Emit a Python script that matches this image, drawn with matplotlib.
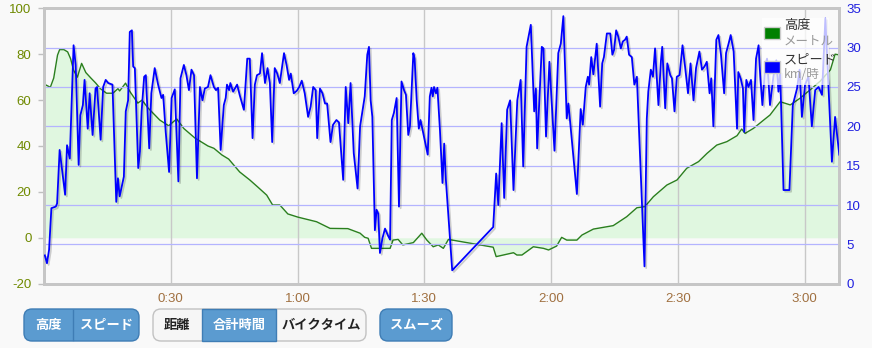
import matplotlib
matplotlib.use('Agg')
import matplotlib.pyplot as plt
import matplotlib.patheffects as pe
from matplotlib.patches import FancyBboxPatch, Rectangle

# altitude (m) over elapsed time (min)
alt_min = [0, 1.5, 2.3, 3.2, 3.7, 4.7, 5.6, 6.3, 7.0, 7.9, 8.9, 9.9, 11.1, 12.2, 13.4,
           14.8, 16.3, 17.5, 17.9, 19.3, 20.3, 22.2, 23.2, 24.6, 27.4, 29.5, 31.4, 33.1,
           35.7, 38.8, 40.2, 42.1, 43.7, 46.3, 48.7, 50.6, 52.7, 54.1, 55.8, 57.7, 60.1,
           64.5, 67.7, 71.9, 74.8, 75.9, 76.7, 77.5, 81.9, 82.6, 83.8, 84.9, 87.4, 89.4,
           90.6, 92.1, 93.3, 94.5, 95.7, 106.3, 107.0, 111.1, 111.9, 113.1, 115.8, 118.2,
           119.4, 121.3, 122.5, 123.7, 126.1, 127.3, 130.0, 134.7, 137.9, 140.3, 142.2,
           144.2, 147.4, 149.8, 152.1, 154.9, 156.9, 159.2, 161.6, 164.0, 165.1, 165.9,
           167.9, 170.3, 171.8, 174.2, 176.6, 178.9, 181.7, 183.7, 186.1, 187.2, 188.2]
alt_m = [67, 65.6, 69.6, 79.6, 82, 82, 81, 78, 73, 70, 76, 72, 69.6, 67.5, 64.9,
         63, 63, 65, 64, 67.4, 63.8, 58.7, 60, 56.6, 51.3, 48.8, 51.8, 47.6,
         43.5, 40, 39, 36.1, 34.3, 28.7, 25.2, 22.1, 18.6, 14.3, 14.3, 10.4, 9,
         7, 4.1, 4, 2, 0.2, -0.2, -4.6, -4.6, -1, -0.7, -3.1, -2.1, 2,
         -1, -3.9, -3.1, -4.6, -0.7, -4.1, -8.2, -6.5, -7.5, -7.5, -3.9, -4.6,
         -5.3, -3.6, 0.2, -1, -1, 1.2, 3.8, 5.3, 9.2, 13.1, 13.6,
         17.9, 23, 25.2, 30.3, 33.2, 36.8, 40.4, 41.9, 44.5, 47.4, 45.5,
         47.7, 51.3, 53.5, 59.3, 57.9, 60.8, 65.1, 68.3, 73.2, 80, 79.7]

# speed (km/h) over elapsed time (min)
speed_min = [0.2, 0.7, 1.2, 1.75, 2.8, 3.1, 3.7, 5.0, 5.45, 6.1, 7.0, 7.5, 8.2, 8.6, 9.2,
             9.6, 10.35, 10.8, 11.5, 12.2, 12.55, 13.4, 14.0, 14.6, 15.2, 16.2, 17.1, 17.5,
             17.9, 18.9, 19.35, 19.9, 20.3, 20.8, 21.1, 21.5, 22.3, 22.7, 23.1, 23.7, 24.1,
             24.9, 25.4, 26.2, 27.0, 27.8, 28.2, 28.8, 29.6, 30.2, 30.95, 31.8, 32.3, 33.1,
             33.7, 34.3, 34.9, 35.5, 36.2, 36.9, 37.5, 38.05, 38.8, 39.4, 40.2, 40.7, 41.2,
             41.8, 42.55, 43.0, 43.3, 43.8, 44.1, 44.75, 45.7, 46.3, 47.3, 48.1, 48.7, 49.35,
             49.9, 50.4, 51.1, 51.6, 52.3, 52.9, 53.45, 54.0, 54.6, 55.2, 55.8, 56.8, 57.4,
             58.0, 58.4, 59.1, 59.8, 60.4, 61.0, 61.7, 62.5, 63.1, 63.7, 64.3, 64.65, 65.3,
             65.9, 66.5, 67.0, 67.8, 68.4, 69.2, 69.8, 70.8, 71.4, 72.0, 72.55, 73.3, 74.2,
             74.8, 75.9, 76.5, 76.9, 77.3, 77.7, 78.3, 78.7, 79.1, 79.5, 80.1, 80.7, 81.5,
             81.9, 82.3, 82.8, 83.45, 84.0, 84.6, 85.2, 85.65, 86.2, 86.6, 87.4, 87.7, 88.2,
             88.7, 89.1, 89.75, 90.8, 91.3, 91.7, 92.0, 92.3, 92.75, 93.1, 93.7, 94.3, 94.7,
             95.1, 96.6, 106.3, 107.0, 107.5, 108.3, 108.9, 109.6, 110.3, 111.1, 112.0, 112.8,
             113.4, 114.2, 115.2, 116.0, 116.4, 116.7, 117.8, 118.2, 118.8, 119.6, 120.8,
             121.7, 122.3, 122.9, 123.7, 124.1, 126.1, 127.0, 127.5, 128.2, 128.7, 129.0,
             129.5, 130.0, 130.8, 131.6, 132.1, 132.5, 133.2, 134.0, 134.5, 134.9, 135.4,
             135.9, 136.5, 137.0, 137.5, 137.9, 138.45, 139.1, 139.7, 140.3, 142.1, 142.65,
             143.0, 143.6, 144.1, 144.6, 145.4, 146.0, 146.3, 147.0, 147.5, 148.2, 148.6,
             149.2, 149.75, 150.4, 151.1, 151.7, 152.4, 153.0, 153.7, 154.3, 155.1, 155.7,
             156.3, 156.85, 157.5, 157.9, 158.4, 159.1, 159.6, 160.2, 160.95, 161.4, 162.0,
             162.5, 163.2, 164.0, 164.3, 164.9, 165.4, 165.7, 166.2, 166.7, 167.3, 167.9,
             168.5, 169.1, 169.5, 170.0, 170.7, 171.1, 171.8, 172.6, 173.3, 173.8, 174.2,
             175.0, 176.4, 177.2, 178.2, 178.8, 179.35, 180.1, 180.9, 181.7, 182.5, 183.3,
             184.1, 184.9, 185.65, 186.45, 187.2, 188.2]
speed_kmh = [3.6, 2.6, 4.3, 9.6, 9.8, 10.2, 17.0, 11.3, 17.6, 15.9, 30.3, 27.8, 15.1, 21.4, 22.7,
             25.9, 19.7, 24.2, 18.9, 24.8, 25.0, 18.3, 25.0, 25.9, 25.5, 25.3, 10.4, 13.4,
             11.1, 13.6, 21.9, 23.3, 32.0, 32.2, 27.6, 27.4, 14.7, 16.8, 21.9, 26.3, 26.5,
             17.2, 24.2, 27.4, 25.3, 23.6, 24.0, 19.3, 14.2, 23.6, 24.7, 13.0, 26.1, 27.8,
             26.5, 24.6, 27.2, 26.5, 13.4, 25.0, 23.3, 24.8, 25.0, 26.5, 25.0, 24.6, 24.9,
             17.0, 22.7, 23.6, 25.3, 24.6, 25.5, 24.4, 25.3, 24.0, 22.1, 28.6, 28.6, 18.5,
             25.3, 26.5, 26.7, 29.3, 25.5, 27.4, 25.5, 18.0, 27.4, 26.7, 25.5, 29.3, 27.8,
             25.9, 26.7, 24.2, 24.5, 25.0, 25.8, 24.2, 21.2, 22.5, 25.0, 24.6, 18.5, 24.8,
             24.2, 22.9, 22.9, 18.0, 20.2, 20.8, 20.5, 13.2, 25.0, 20.4, 25.5, 16.6, 12.1,
             20.0, 23.8, 29.1, 30.1, 23.3, 21.2, 6.8, 9.4, 8.9, 3.9, 5.8, 7.0, 6.0,
             5.6, 20.8, 21.7, 23.6, 9.8, 25.7, 24.6, 24.0, 18.9, 20.0, 29.3, 28.6, 23.3,
             19.7, 20.8, 19.1, 16.4, 23.8, 24.9, 23.8, 25.0, 24.2, 24.9, 19.5, 12.8, 17.8,
             13.2, 1.7, 7.2, 14.0, 10.0, 20.4, 10.9, 22.1, 23.3, 11.9, 23.3, 25.9,
             14.9, 30.1, 32.9, 21.9, 24.8, 17.2, 30.1, 29.9, 18.7, 28.2, 16.9,
             29.3, 30.5, 34.0, 21.0, 22.9, 11.4, 22.2, 20.2, 25.0, 26.3, 25.3,
             28.8, 26.6, 30.5, 22.5, 28.0, 28.8, 31.8, 31.8, 29.1, 29.7, 32.2,
             31.4, 29.9, 30.8, 31.0, 31.4, 29.1, 28.8, 25.3, 26.3, 2.2, 21.0,
             24.4, 27.2, 26.3, 29.9, 22.7, 28.4, 30.1, 22.3, 28.0, 26.5, 26.1,
             21.9, 26.3, 26.5, 30.3, 27.6, 24.2, 28.0, 23.3, 27.4, 29.5, 27.2,
             27.6, 28.2, 24.2, 26.1, 20.0, 31.0, 31.6, 29.1, 24.2, 29.3, 30.5,
             31.6, 29.5, 19.7, 26.9, 26.0, 24.8, 19.3, 25.9, 25.0, 25.9, 20.8,
             28.6, 30.3, 26.3, 22.7, 27.8, 28.6, 22.7, 26.3, 28.4, 24.4, 26.9,
             11.9, 11.9, 22.7, 24.8, 27.2, 21.2, 25.3, 26.3, 20.0, 24.6, 25.0,
             24.0, 33.7, 24.8, 15.5, 21.2, 16.4]

time_ticks = [30, 60, 90, 120, 150, 180]
time_labels = ['0:30', '1:00', '1:30', '2:00', '2:30', '3:00']
alt_ticks = [-20, 0, 20, 40, 60, 80, 100]
speed_ticks = [0, 5, 10, 15, 20, 25, 30, 35]

W, H = 872, 348
bg = '#f9f9f9'
plt.rcParams['font.family'] = ['Liberation Sans', 'Noto Sans CJK JP', 'DejaVu Sans']
plt.rcParams['axes.unicode_minus'] = False

fig = plt.figure(figsize=(W / 100, H / 100), dpi=100, facecolor=bg)
ax = fig.add_axes([44 / W, 1 - 283.7 / H, (839.3 - 44) / W, (283.7 - 8.3) / H])
ax.set_facecolor(bg)

ax.fill_between(alt_min, alt_m, 0, color='#e0f7e0', lw=0, zorder=1)
ax.plot(alt_min, alt_m, color='#2a7f1e', lw=1.0, zorder=2)
ax.set_xlim(0, 188.2)
ax.set_ylim(-20, 100)
ax.set_yticks(alt_ticks)
ax.set_xticks(time_ticks)
ax.set_xticklabels(time_labels)
ax.grid(axis='x', color='#c8c8c8', lw=1)
ax.set_axisbelow('line')
ax.tick_params(axis='y', length=4, width=1, color='#c0c0c0', labelcolor='#6f8a00',
               labelsize=9.5, pad=5)
ax.tick_params(axis='x', length=0, labelcolor='#a07040', labelsize=9.5, pad=7)

ax2 = ax.twinx()
ax2.set_ylim(0, 35)
ax2.set_yticks(speed_ticks)
ax2.grid(axis='y', color='#b4b4ff', lw=0.9)
ax2.set_axisbelow(True)
ax2.plot(speed_min, speed_kmh, color='#0000ff', lw=1.3, zorder=3,
         path_effects=[pe.SimpleLineShadow(offset=(1.2, -1.2), shadow_color='#000000', alpha=0.18),
                       pe.Normal()])
ax2.tick_params(axis='y', length=0, labelcolor='#1f1fe0', labelsize=9.5, pad=5)

for a in (ax, ax2):
    for s in a.spines.values():
        s.set_color('#c6c6c6')
        s.set_linewidth(2)

# overlay in pixel units for legend and buttons
ov = fig.add_axes([0, 0, 1, 1])
ov.set_xlim(0, W)
ov.set_ylim(H, 0)
ov.axis('off')
ov.patch.set_visible(False)

jp = ['Noto Sans CJK JP', 'DejaVu Sans']

# legend
ov.add_patch(Rectangle((762, 18), 67, 67, facecolor='white', alpha=0.75, lw=0))
ov.add_patch(Rectangle((764, 27), 16, 12, facecolor='#008000', edgecolor='#cccccc', lw=1))
ov.add_patch(Rectangle((764, 61), 16, 12, facecolor='#0000ff', edgecolor='#cccccc', lw=1))
ov.text(784, 26, '高度', family=jp, fontsize=9.5, color='#333333', va='center')
ov.text(784, 41, 'メートル', family=jp, fontsize=9, color='#999999', va='center')
ov.text(784, 60, 'スピード', family=jp, fontsize=9.5, color='#333333', va='center')
ov.text(784, 75, 'km/時', family=jp, fontsize=9, color='#999999', va='center')

# buttons
blue, blue_edge = '#5b9bd0', '#3f7db5'
light, light_edge = '#f6f6f6', '#c2c2c2'
by0, by1 = 309, 341
bmid = (by0 + by1) / 2


def group(x0, x1, face, edge):
    ov.add_patch(FancyBboxPatch((x0, by0), x1 - x0, by1 - by0,
                                boxstyle='round,pad=0,rounding_size=8',
                                facecolor=face, edgecolor=edge, lw=1))


group(24, 139, blue, blue_edge)
ov.plot([73, 73], [by0 + 1, by1 - 1], color=blue_edge, lw=1)
ov.text(48.5, bmid, '高度', family=jp, weight='bold', fontsize=9.5, color='white', ha='center', va='center')
ov.text(106, bmid, 'スピード', family=jp, weight='bold', fontsize=9.5, color='white', ha='center', va='center')

group(153, 366, light, light_edge)
ov.add_patch(Rectangle((202, by0), 74, by1 - by0, facecolor=blue, edgecolor=blue_edge, lw=1))
ov.text(177, bmid, '距離', family=jp, weight='bold', fontsize=9.5, color='#222222', ha='center', va='center')
ov.text(239, bmid, '合計時間', family=jp, weight='bold', fontsize=9.5, color='white', ha='center', va='center')
ov.text(321, bmid, 'バイクタイム', family=jp, weight='bold', fontsize=9.5, color='#222222', ha='center', va='center')

group(380, 452, blue, blue_edge)
ov.text(416, bmid, 'スムーズ', family=jp, weight='bold', fontsize=9.5, color='white', ha='center', va='center')

fig.savefig('out.png', dpi=100, facecolor=bg)
